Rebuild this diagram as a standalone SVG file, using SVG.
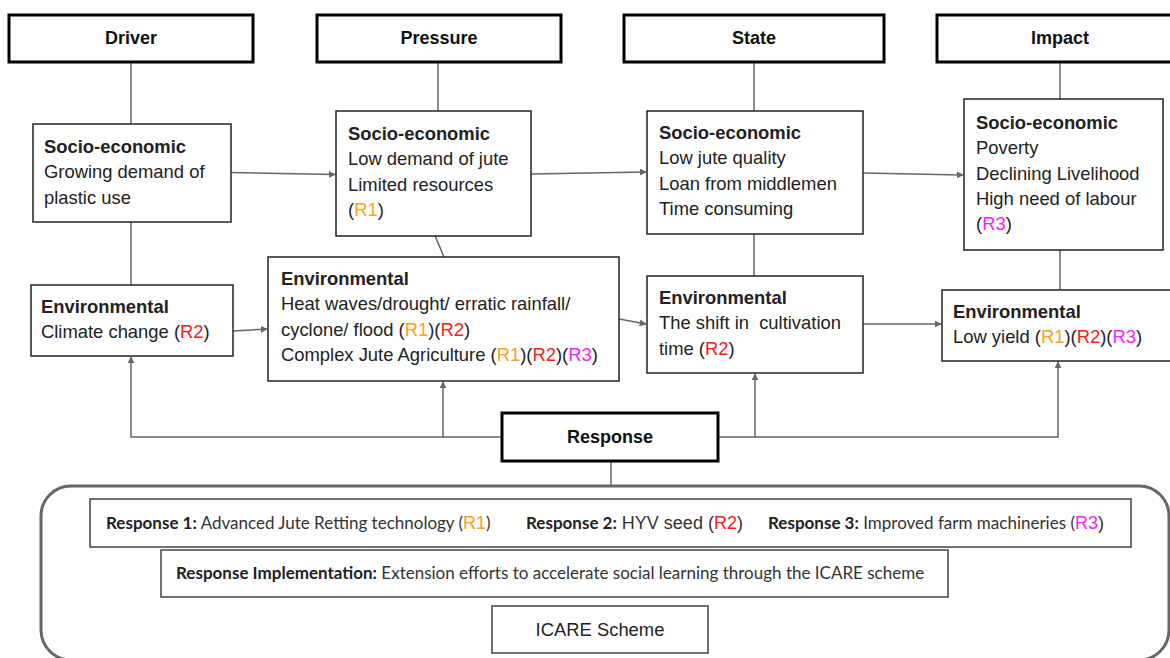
<svg xmlns="http://www.w3.org/2000/svg" width="1170" height="658" viewBox="0 0 1170 658">
<defs>
<marker id="arr" viewBox="0 0 10 10" refX="9" refY="5" markerWidth="7" markerHeight="7" markerUnits="userSpaceOnUse" orient="auto">
<path d="M0,0 L10,5 L0,10 z" fill="#666"/>
</marker>
<style>
.hdr{fill:#fff;stroke:#000;stroke-width:3}
.box{fill:#fff;stroke:#222;stroke-width:1.5}
.t{font-family:"Liberation Sans",Arial,sans-serif;font-size:18.4px;fill:#222}
.b{font-weight:bold}
.h{font-family:"Liberation Sans",Arial,sans-serif;font-size:18px;font-weight:bold;fill:#111;text-anchor:middle}
.c{fill:none;stroke:#666;stroke-width:1.5}
.r1{fill:#f9a21b}
.r2{fill:#ff1a1a}
.r3{fill:#ff20ff}
.cal{font-family:Lato,"Open Sans",sans-serif;font-size:17px;fill:#333}
.calb{font-weight:bold;fill:#222}
.ar{font-family:"Liberation Sans",Arial,sans-serif;font-size:18px}
.sbox{fill:#fff;stroke:#444;stroke-width:1.5}
</style>
</defs>

<g id="connectors">
<line class="c" x1="131" y1="62" x2="131" y2="124"/>
<line class="c" x1="131" y1="222" x2="131" y2="285"/>
<line class="c" x1="438" y1="62" x2="438" y2="111"/>
<line class="c" x1="433" y1="231" x2="444" y2="257"/>
<line class="c" x1="754" y1="62" x2="754" y2="111"/>
<line class="c" x1="754" y1="234" x2="754" y2="276"/>
<line class="c" x1="1060" y1="62" x2="1060" y2="99"/>
<line class="c" x1="1060" y1="250" x2="1060" y2="290"/>
<line class="c" x1="231" y1="172.5" x2="335" y2="174.5" marker-end="url(#arr)"/>
<line class="c" x1="531" y1="174" x2="646" y2="172" marker-end="url(#arr)"/>
<line class="c" x1="863" y1="173" x2="963" y2="175" marker-end="url(#arr)"/>
<line class="c" x1="233" y1="331" x2="267" y2="329" marker-end="url(#arr)"/>
<line class="c" x1="619" y1="319" x2="646" y2="324" marker-end="url(#arr)"/>
<line class="c" x1="863" y1="324" x2="941" y2="324" marker-end="url(#arr)"/>
<polyline class="c" points="502,437 131,437 131,357" marker-end="url(#arr)"/>
<line class="c" x1="443" y1="438" x2="443" y2="382" marker-end="url(#arr)"/>
<polyline class="c" points="718,437 1058,437 1058,362" marker-end="url(#arr)"/>
<line class="c" x1="755" y1="437" x2="755" y2="374" marker-end="url(#arr)"/>
<line class="c" x1="611" y1="461" x2="611" y2="486"/>
</g>

<g id="driver-header"><rect class="hdr" x="9" y="15" width="244" height="47"/><text class="h" x="131" y="44">Driver</text></g>
<g id="pressure-header"><rect class="hdr" x="317" y="15" width="244" height="47"/><text class="h" x="439" y="44">Pressure</text></g>
<g id="state-header"><rect class="hdr" x="624" y="15" width="260" height="47"/><text class="h" x="754" y="44">State</text></g>
<g id="impact-header"><rect class="hdr" x="937" y="15" width="246" height="47"/><text class="h" x="1060" y="44">Impact</text></g>

<g id="driver-se"><rect class="box" x="33" y="124" width="198" height="98"/>
<text class="t" x="44" y="153"><tspan class="b">Socio-economic</tspan><tspan x="44" dy="25.3">Growing demand of</tspan><tspan x="44" dy="25.3">plastic use</tspan></text></g>

<g id="pressure-se"><rect class="box" x="336" y="111" width="195" height="125"/>
<text class="t" x="348" y="140"><tspan class="b">Socio-economic</tspan><tspan x="348" dy="25.3">Low demand of jute</tspan><tspan x="348" dy="25.3">Limited resources</tspan><tspan x="348" dy="25.3">(</tspan><tspan class="r1">R1</tspan><tspan>)</tspan></text></g>

<g id="state-se"><rect class="box" x="647" y="111" width="216" height="123"/>
<text class="t" x="659" y="139"><tspan class="b">Socio-economic</tspan><tspan x="659" dy="25.3">Low jute quality</tspan><tspan x="659" dy="25.3">Loan from middlemen</tspan><tspan x="659" dy="25.3">Time consuming</tspan></text></g>

<g id="impact-se"><rect class="box" x="964" y="99" width="199" height="151"/>
<text class="t" x="976" y="129"><tspan class="b">Socio-economic</tspan><tspan x="976" dy="25.3">Poverty</tspan><tspan x="976" dy="25.3">Declining Livelihood</tspan><tspan x="976" dy="25.3">High need of labour</tspan><tspan x="976" dy="25.3">(</tspan><tspan class="r3">R3</tspan><tspan>)</tspan></text></g>

<g id="driver-env"><rect class="box" x="31" y="285" width="202" height="71"/>
<text class="t" x="41" y="313"><tspan class="b">Environmental</tspan><tspan x="41" dy="25.3">Climate change (</tspan><tspan class="r2">R2</tspan><tspan>)</tspan></text></g>

<g id="pressure-env"><rect class="box" x="268" y="257" width="351" height="124"/>
<text class="t" x="281" y="285"><tspan class="b">Environmental</tspan><tspan x="281" dy="25.3">Heat waves/drought/ erratic rainfall/</tspan><tspan x="281" dy="25.3">cyclone/ flood (</tspan><tspan class="r1">R1</tspan><tspan>)(</tspan><tspan class="r2">R2</tspan><tspan>)</tspan><tspan x="281" dy="25.3">Complex Jute Agriculture (</tspan><tspan class="r1">R1</tspan><tspan>)(</tspan><tspan class="r2">R2</tspan><tspan>)(</tspan><tspan class="r3">R3</tspan><tspan>)</tspan></text></g>

<g id="state-env"><rect class="box" x="647" y="276" width="216" height="97"/>
<text class="t" x="659" y="304"><tspan class="b">Environmental</tspan><tspan x="659" dy="25.3">The shift in&#160; cultivation</tspan><tspan x="659" dy="25.3">time (</tspan><tspan class="r2">R2</tspan><tspan>)</tspan></text></g>

<g id="impact-env"><rect class="box" x="942" y="290" width="230" height="71"/>
<text class="t" x="953" y="318"><tspan class="b">Environmental</tspan><tspan x="953" dy="25.3">Low yield (</tspan><tspan class="r1">R1</tspan><tspan>)(</tspan><tspan class="r2">R2</tspan><tspan>)(</tspan><tspan class="r3">R3</tspan><tspan>)</tspan></text></g>

<g id="response-header"><rect class="hdr" x="502" y="413" width="216" height="48"/><text class="h" x="610" y="443">Response</text></g>

<g id="response-panel">
<rect x="41" y="486" width="1128" height="174" rx="30" ry="30" fill="none" stroke="#666" stroke-width="3"/>
<rect class="sbox" x="90" y="499" width="1041" height="48"/>
<text class="cal" x="106" y="529"><tspan class="calb">Response 1:</tspan> Advanced Jute Retting technology (<tspan class="ar r1">R1</tspan>)</text>
<text class="cal" x="526" y="529"><tspan class="calb">Response 2:</tspan><tspan class="ar"> HYV seed (</tspan><tspan class="ar r2">R2</tspan><tspan class="ar">)</tspan></text>
<text class="cal" x="768" y="529"><tspan class="calb">Response 3:</tspan> Improved farm machineries (<tspan class="ar r3">R3</tspan><tspan class="ar">)</tspan></text>
<rect class="sbox" x="161" y="550" width="787" height="47"/>
<text class="cal" x="176" y="579"><tspan class="calb">Response Implementation:</tspan> Extension efforts to accelerate social learning through the ICARE scheme</text>
<rect class="sbox" x="492" y="606" width="216" height="47"/>
<text class="t" x="600" y="636" text-anchor="middle">ICARE Scheme</text>
</g>
</svg>
